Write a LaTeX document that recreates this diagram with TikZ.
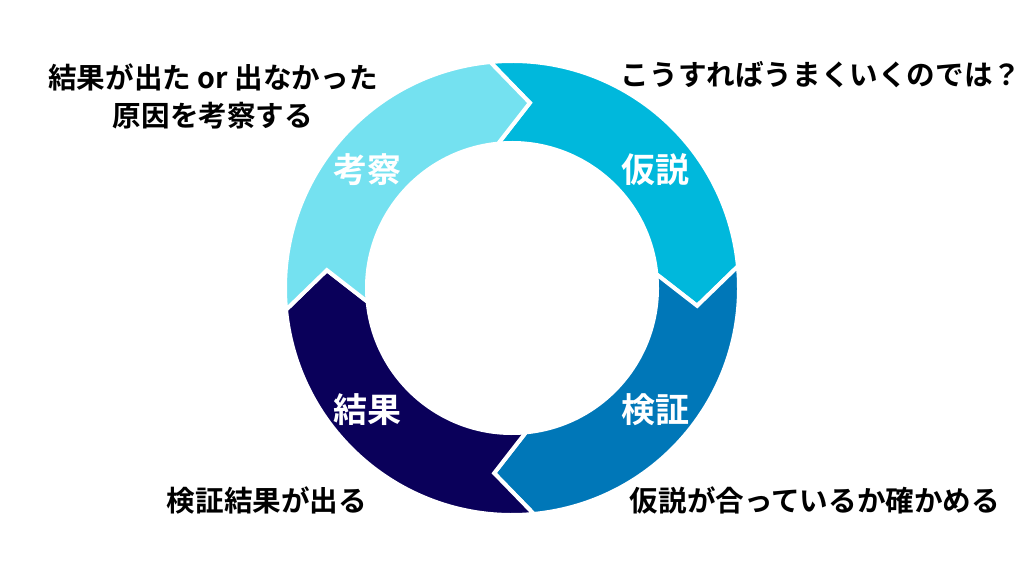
\documentclass[tikz,border=0pt]{standalone}
\usepackage{fontspec}
\setmainfont{Noto Sans CJK JP}[BoldFont={Noto Sans CJK JP Bold}]
\usepackage{tikz}

\definecolor{kousatsu}{HTML}{74E1F0}
\definecolor{kasetsu}{HTML}{00B8DC}
\definecolor{kenshou}{HTML}{0077B8}
\definecolor{kekka}{HTML}{0A005A}

\newcommand{\ringseg}[4]{% name, start angle, end angle, colour
  \pgfmathsetmacro{\tipa}{#3-11}
  \pgfmathsetmacro{\notcha}{#2-11}
  \fill[#4,draw=white,line width=4,line join=miter]
    (#2:227) arc[start angle=#2,end angle=#3,radius=227]
    -- (\tipa:186) -- (#3:145)
    arc[start angle=#3,end angle=#2,radius=145]
    -- (\notcha:186) -- cycle;
}

\begin{document}
\begin{tikzpicture}[x=1pt,y=1pt,
    ringlabel/.style={text=white,font=\fontsize{34}{40}\selectfont\bfseries},
    note/.style={text=black,align=center,font=\fontsize{28.6}{38}\selectfont\bfseries}]
        \useasboundingbox[fill=white](0,0)rectangle(1024,576);

        \begin{scope}[shift={(512,288)}]
        \ringseg{kasetsu}{95.5}{5.5}{kasetsu}
        \ringseg{kenshou}{5.5}{-84.5}{kenshou}
        \ringseg{kekka}{-84.5}{-174.5}{kekka}
        \ringseg{kousatsu}{185.5}{95.5}{kousatsu}
        \end{scope}

        \node[ringlabel](lkousatsu)at(367,406){考察};
        \node[ringlabel](lkasetsu)at(655,406){仮説};
        \node[ringlabel](lkenshou)at(655,166){検証};
        \node[ringlabel](lkekka)at(367,166){結果};

        \node[note](nkousatsu)at(213,480){結果が出た or 出なかった\\原因を考察する};
        \node[note](nkasetsu)at(821,501){こうすればうまくいくのでは？};
        \node[note](nkenshou)at(815,76){仮説が合っているか確かめる};
        \node[note](nkekka)at(267,76){検証結果が出る};
    \end{tikzpicture}
\end{document}
